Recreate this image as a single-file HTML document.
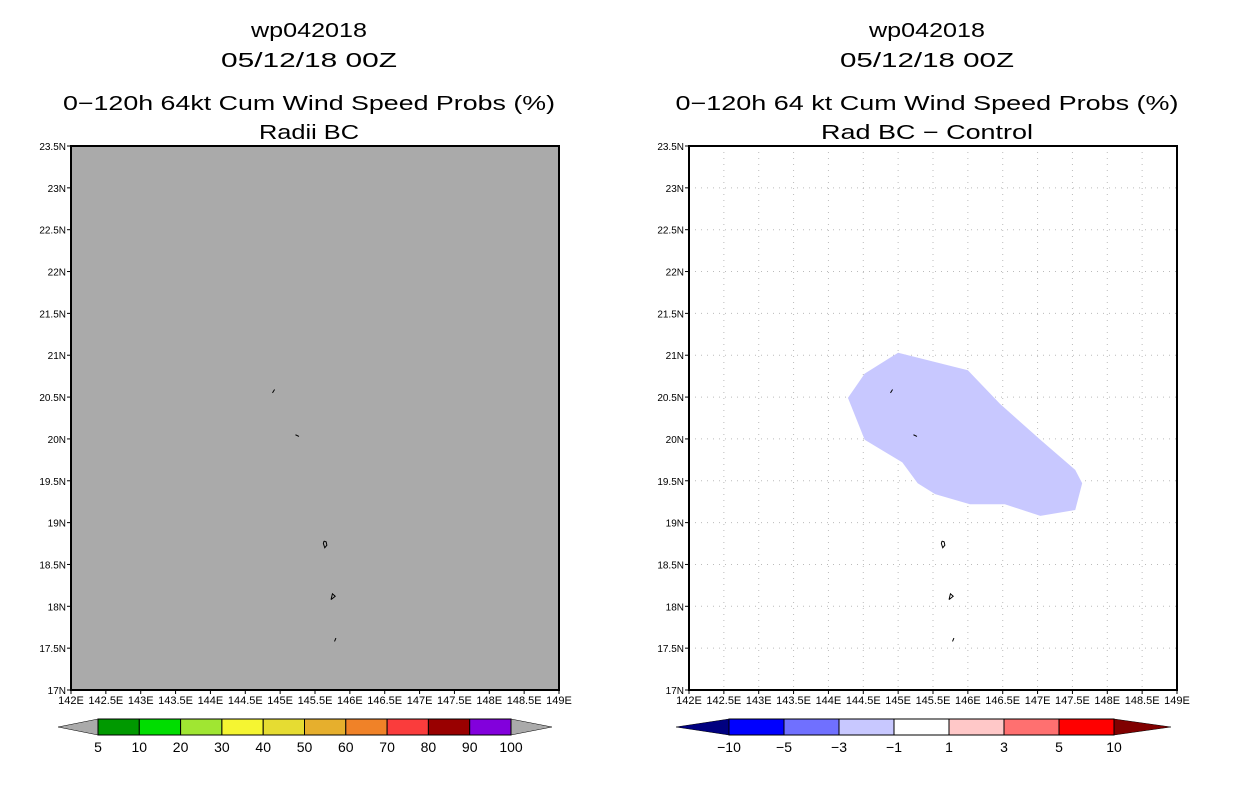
<!DOCTYPE html>
<html><head><meta charset="utf-8"><style>
html,body{margin:0;padding:0;background:#fff;}
svg text{font-family:"Liberation Sans",sans-serif;fill:#000;}
</style></head><body>
<svg id="chart" width="1236" height="800" viewBox="0 0 1236 800" xmlns="http://www.w3.org/2000/svg"></svg>
<script>
const lonTicks=["142E","142.5E","143E","143.5E","144E","144.5E","145E","145.5E","146E","146.5E","147E","147.5E","148E","148.5E","149E"];
const latTicks=["17N","17.5N","18N","18.5N","19N","19.5N","20N","20.5N","21N","21.5N","22N","22.5N","23N","23.5N"];
const leftLevels=["5","10","20","30","40","50","60","70","80","90","100"];
const leftColors=["#009900","#00dd00","#a0e632","#f5f532","#e6dc32","#e6af2d","#f08228","#fa3c3c","#990000","#8200dc"];
const rightLevels=["-10","-5","-3","-1","1","3","5","10"];
const rightColors=["#0000ff","#7070ff","#c8c8ff","#ffffff","#ffc8c8","#ff7070","#ff0000"];
const diffLon=[144.28,144.52,145.0,146.0,146.46,147.04,147.54,147.64,147.54,147.04,146.53,146.03,145.53,145.28,145.06,144.52];
const diffLat=[20.49,20.78,21.03,20.82,20.42,19.99,19.63,19.47,19.15,19.08,19.22,19.22,19.34,19.47,19.72,19.99];
const islands=[[[144.89,20.55],[144.92,20.59]],[[145.22,20.05],[145.27,20.03]],[[145.63,18.78],[145.66,18.77],[145.67,18.73],[145.64,18.7],[145.62,18.75],[145.63,18.78]],[[145.73,18.08],[145.75,18.15],[145.79,18.12],[145.73,18.08]],[[145.78,17.58],[145.80,17.62]]];
const NS="http://www.w3.org/2000/svg";
const svg=document.getElementById('chart');
function mk(tag,attrs,parent){const e=document.createElementNS(NS,tag);for(const k in attrs)e.setAttribute(k,attrs[k]);(parent||svg).appendChild(e);return e;}
const W=488,H=544,TOP=146;
function panel(x0,bg,titles,lens,grid,name){
  const g=mk('g',{});
  
  
  const X=lon=>x0+(lon-142)/7*W, Y=lat=>TOP+H-(lat-17)/6.5*H;
  const ys=[30,60,103,132];
  titles.forEach((t,i)=>{const tx=mk('text',{x:x0+W/2-6,y:ys[i]+7,'font-size':20,'text-anchor':'middle',textLength:lens[i],lengthAdjust:'spacingAndGlyphs'},g);tx.textContent=t;
    
    });
  const r=mk('rect',{x:x0,y:TOP,width:W,height:H,fill:bg},g);
  
  
  if(grid){
    for(let i=1;i<lonTicks.length-1;i++) mk('line',{x1:X(142+i*0.5),x2:X(142+i*0.5),y1:TOP,y2:TOP+H,stroke:'#bbb','stroke-dasharray':'1,5'},g);
    for(let i=1;i<latTicks.length-1;i++) mk('line',{x1:x0,x2:x0+W,y1:Y(17+i*0.5),y2:Y(17+i*0.5),stroke:'#bbb','stroke-dasharray':'1,5'},g);
    const pts=diffLon.map((l,i)=>X(l)+','+Y(diffLat[i])).join(' ');
    const p=mk('polygon',{points:pts,fill:'#c8c8ff'},g);
    
    
  }
  islands.forEach(isl=>{mk('polyline',{points:isl.map(p=>X(p[0])+','+Y(p[1])).join(' '),fill:'none',stroke:'#000','stroke-width':1},g);});
  mk('rect',{x:x0,y:TOP,width:W,height:H,fill:'none',stroke:'#000','stroke-width':2},g);
  lonTicks.forEach((t,i)=>{const x=x0+i*W/14;mk('line',{x1:x,x2:x,y1:TOP+H,y2:TOP+H+4,stroke:'#000'},g);
    const tx=mk('text',{x:x,y:TOP+H+14,'font-size':11,'text-anchor':'middle'},g);tx.textContent=t;
    
    });
  latTicks.forEach((t,i)=>{const y=Y(17+i*0.5);mk('line',{x1:x0-4,x2:x0,y1:y,y2:y,stroke:'#000'},g);
    const tx=mk('text',{x:x0-5,y:y+4,'font-size':10,'text-anchor':'end'},g);tx.textContent=t;
    
    });
  return g;
}
panel(71,'#aaaaaa',["wp042018","05/12/18 00Z","0\u2212120h 64kt Cum Wind Speed Probs (%)","Radii BC"],[116,176,492,100],false,'left-panel');
panel(689,'#ffffff',["wp042018","05/12/18 00Z","0\u2212120h 64 kt Cum Wind Speed Probs (%)","Rad BC \u2212 Control"],[116,174,503,212],true,'right-panel');
function colorbar(xs,xe,bx0,bx1,colors,levels,lc,rc,name){
  const g=mk('g',{});
  
  
  const y0=719,y1=735,ym=727;
  mk('polygon',{points:`${xs},${ym} ${bx0},${y0} ${bx0},${y1}`,fill:lc,stroke:'#000','stroke-width':0.5},g);
  mk('polygon',{points:`${xe},${ym} ${bx1},${y0} ${bx1},${y1}`,fill:rc,stroke:'#000','stroke-width':0.5},g);
  const w=(bx1-bx0)/colors.length;
  colors.forEach((c,i)=>mk('rect',{x:bx0+i*w,y:y0,width:w,height:y1-y0,fill:c,stroke:'#000','stroke-width':1},g));
  levels.forEach((l,i)=>{const tx=mk('text',{x:bx0+i*w,y:752,'font-size':14,'text-anchor':'middle'},g);tx.textContent=l.replace('-','\u2212');
    
    });
}
colorbar(58,552,98,511,leftColors,leftLevels,'#aaaaaa','#aaaaaa','left-colorbar');
colorbar(676,1171,729,1114,rightColors,rightLevels,'#000080','#800000','right-colorbar');
</script>
</body></html>
